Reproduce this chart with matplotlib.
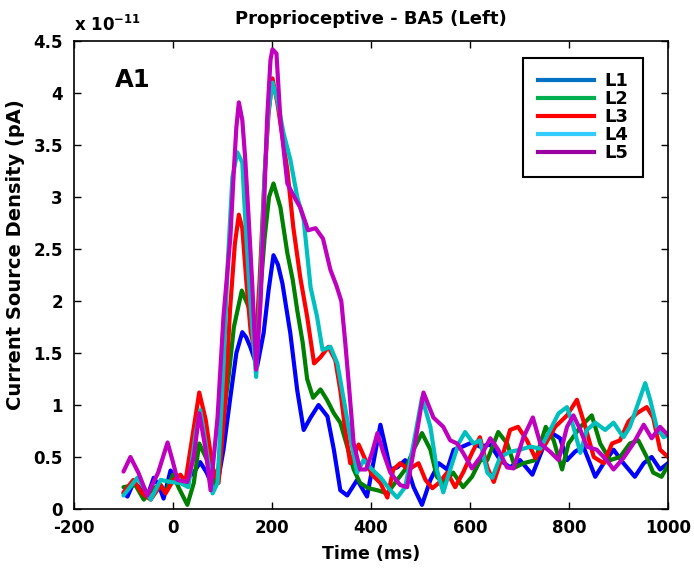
import matplotlib
matplotlib.use('Agg')
import matplotlib.pyplot as plt
from matplotlib.lines import Line2D

# values, current density in units of 1e-11
t_L1 = [-100, -92, -80, -65, -52, -39, -28, -19, -5, 5, 18, 30, 42, 55, 68, 80, 92, 102, 116, 128,
        140, 148, 156, 170, 183, 193, 203, 212, 221, 237, 251, 264, 278, 294, 312, 325, 338, 352, 372, 392,
        405, 419, 429, 439, 453, 469, 486, 503, 520, 537, 554, 567, 585, 604, 620, 641, 661, 681, 701, 726,
        746, 762, 782, 796, 812, 829, 853, 870, 890, 910, 933, 951, 967, 984, 1000]
v_L1 = [0.15, 0.12, 0.25, 0.2, 0.12, 0.3, 0.22, 0.1, 0.37, 0.28, 0.25, 0.3, 0.35, 0.45, 0.35, 0.22, 0.3, 0.57, 1.08, 1.5,
        1.7, 1.65, 1.56, 1.37, 1.69, 2.1, 2.44, 2.35, 2.17, 1.69, 1.14, 0.76, 0.88, 1.0, 0.89, 0.57, 0.18, 0.13, 0.28, 0.12,
        0.45, 0.81, 0.6, 0.38, 0.4, 0.47, 0.21, 0.04, 0.28, 0.44, 0.38, 0.57, 0.6, 0.64, 0.6, 0.62, 0.47, 0.4, 0.47, 0.33,
        0.57, 0.74, 0.68, 0.47, 0.55, 0.6, 0.31, 0.44, 0.57, 0.44, 0.31, 0.44, 0.5, 0.38, 0.44]

t_L2 = [-100, -76, -59, -40, -25, -15, 0, 12, 29, 42, 53, 69, 82, 92, 102, 113, 123, 139, 153, 166,
        175, 185, 194, 203, 217, 231, 242, 251, 262, 271, 283, 298, 311, 325, 338, 352, 365, 378, 395, 413,
        433, 453, 469, 486, 503, 520, 533, 546, 566, 586, 604, 621, 635, 657, 675, 691, 708, 732, 753, 769,
        786, 799, 823, 846, 863, 883, 903, 923, 940, 957, 970, 987, 1000]
v_L2 = [0.21, 0.23, 0.09, 0.2, 0.23, 0.16, 0.33, 0.2, 0.04, 0.25, 0.63, 0.47, 0.21, 0.4, 0.88, 1.3, 1.75, 2.1, 1.94, 1.65,
        2.0, 2.6, 3.0, 3.13, 2.9, 2.46, 2.2, 1.91, 1.6, 1.25, 1.07, 1.15, 1.05, 0.92, 0.83, 0.6, 0.38, 0.25, 0.2, 0.18,
        0.15, 0.28, 0.38, 0.57, 0.73, 0.57, 0.31, 0.25, 0.35, 0.21, 0.31, 0.47, 0.47, 0.74, 0.63, 0.4, 0.44, 0.47, 0.79, 0.66,
        0.38, 0.63, 0.79, 0.9, 0.63, 0.47, 0.5, 0.63, 0.66, 0.5, 0.35, 0.31, 0.42]

t_L3 = [-100, -80, -62, -45, -25, -15, 1, 15, 25, 39, 53, 66, 80, 92, 105, 115, 125, 133, 140, 148,
        157, 166, 175, 185, 193, 201, 211, 221, 231, 243, 257, 271, 285, 298, 314, 328, 338, 348, 358, 375,
        389, 402, 419, 433, 445, 459, 476, 496, 510, 524, 537, 554, 570, 586, 604, 620, 635, 648, 665, 681,
        697, 715, 732, 753, 772, 796, 816, 833, 850, 870, 887, 903, 920, 937, 957, 970, 984, 1000]
v_L3 = [0.16, 0.28, 0.15, 0.09, 0.23, 0.15, 0.28, 0.33, 0.26, 0.69, 1.12, 0.86, 0.4, 0.25, 1.0, 1.9, 2.55, 2.83, 2.7, 2.2,
        1.7, 1.5, 2.2, 3.2, 3.8, 4.14, 3.9, 3.58, 3.26, 2.71, 2.23, 1.85, 1.4, 1.46, 1.56, 1.43, 1.14, 0.76, 0.44, 0.62,
        0.47, 0.33, 0.25, 0.11, 0.38, 0.44, 0.38, 0.44, 0.28, 0.2, 0.25, 0.35, 0.21, 0.35, 0.54, 0.69, 0.4, 0.26, 0.5, 0.76,
        0.79, 0.66, 0.49, 0.63, 0.79, 0.9, 1.05, 0.79, 0.5, 0.44, 0.63, 0.66, 0.84, 0.92, 0.98, 0.88, 0.57, 0.5]

t_L4 = [-100, -72, -58, -45, -25, -5, 15, 31, 46, 55, 66, 80, 90, 102, 111, 120, 130, 140, 146, 156,
        168, 177, 185, 192, 201, 211, 223, 237, 251, 264, 278, 291, 302, 318, 332, 345, 358, 372, 385, 402,
        420, 439, 453, 469, 486, 503, 520, 533, 546, 560, 577, 590, 607, 620, 635, 645, 661, 681, 701, 722,
        742, 762, 779, 796, 809, 823, 836, 853, 873, 890, 910, 923, 937, 954, 964, 977, 991, 1000]
v_L4 = [0.13, 0.3, 0.2, 0.09, 0.28, 0.26, 0.25, 0.21, 0.73, 0.95, 0.63, 0.15, 0.25, 1.37, 2.4, 3.19, 3.43, 3.33, 2.78, 2.0,
        1.27, 2.2, 3.2, 3.8, 4.1, 3.93, 3.62, 3.36, 3.0, 2.78, 2.13, 1.85, 1.53, 1.56, 1.4, 1.05, 0.69, 0.35, 0.47, 0.38,
        0.3, 0.18, 0.11, 0.21, 0.63, 1.07, 0.79, 0.38, 0.16, 0.38, 0.63, 0.74, 0.63, 0.66, 0.35, 0.3, 0.5, 0.55, 0.57, 0.6,
        0.58, 0.76, 0.92, 0.98, 0.79, 0.54, 0.76, 0.83, 0.76, 0.83, 0.69, 0.79, 0.98, 1.21, 1.05, 0.79, 0.69, 0.71]

t_L5 = [-100, -86, -70, -52, -30, -11, 0, 9, 29, 42, 53, 65, 76, 90, 102, 116, 123, 128, 133, 140,
        146, 153, 160, 168, 177, 183, 190, 197, 201, 209, 217, 231, 245, 257, 273, 288, 303, 318, 330, 340,
        348, 355, 365, 378, 390, 402, 413, 425, 439, 459, 473, 489, 506, 526, 546, 560, 574, 586, 604, 621,
        641, 657, 675, 688, 708, 727, 742, 762, 779, 796, 809, 823, 836, 856, 876, 890, 910, 930, 951, 967,
        984, 1000]
v_L5 = [0.36, 0.5, 0.35, 0.13, 0.35, 0.64, 0.45, 0.28, 0.26, 0.5, 0.92, 0.6, 0.18, 0.88, 1.85, 2.62, 3.26, 3.67, 3.91, 3.74,
        3.36, 2.78, 2.17, 1.34, 2.0, 2.78, 3.74, 4.32, 4.42, 4.38, 3.74, 3.13, 3.0, 2.9, 2.68, 2.7, 2.6, 2.3, 2.15, 2.0,
        1.6, 1.21, 0.63, 0.38, 0.38, 0.54, 0.73, 0.54, 0.35, 0.23, 0.21, 0.63, 1.12, 0.88, 0.79, 0.66, 0.63, 0.54, 0.39, 0.5,
        0.68, 0.57, 0.4, 0.39, 0.69, 0.88, 0.63, 0.55, 0.47, 0.79, 0.9, 0.76, 0.6, 0.57, 0.47, 0.38, 0.49, 0.63, 0.81, 0.68,
        0.79, 0.71]

labels = ['L1', 'L2', 'L3', 'L4', 'L5']
line_colors = ['#0000FF', '#008000', '#FF0000', '#00BFBF', '#BF00BF']
legend_colors = ['#0070C0', '#00B050', '#FF0000', '#33CCFF', '#9900A0']
x_ticks = [-200, 0, 200, 400, 600, 800, 1000]
y_ticks = [0, 0.5, 1, 1.5, 2, 2.5, 3, 3.5, 4, 4.5]
y_ticklabels = ['0', '0.5', '1', '1.5', '2', '2.5', '3', '3.5', '4', '4.5']

plt.rcParams['font.family'] = 'DejaVu Sans'
plt.rcParams['font.weight'] = 'bold'
plt.rcParams['mathtext.default'] = 'bf'
plt.rcParams['axes.unicode_minus'] = False

fig = plt.figure(figsize=(6.94, 5.71), dpi=100)
ax = fig.add_axes([74 / 694, 62 / 571, 594 / 694, 468 / 571])

series = [(t_L1, v_L1), (t_L2, v_L2), (t_L3, v_L3), (t_L4, v_L4), (t_L5, v_L5)]
for (t, v), c in zip(series, line_colors):
    ax.plot(t, v, color=c, lw=3, solid_joinstyle='round', solid_capstyle='round')

ax.set_xlim(-200, 1000)
ax.set_ylim(0, 4.5)
ax.set_xticks(x_ticks)
ax.set_yticks(y_ticks)
ax.set_yticklabels(y_ticklabels)
ax.tick_params(direction='in', length=5, width=1, top=True, right=True, labelsize=12)
ax.tick_params(axis='y', pad=8)
ax.tick_params(axis='x', pad=7)
for s in ax.spines.values():
    s.set_linewidth(1.2)

ax.set_title('Proprioceptive - BA5 (Left)', fontsize=13, fontweight='bold', pad=12)
ax.set_xlabel('Time (ms)', fontsize=12.5, fontweight='bold', labelpad=6)
ax.set_ylabel('Current Source Density (pA)', fontsize=14, fontweight='bold')
ax.yaxis.set_label_coords(-0.083, 0.543)
ax.text(0, 1.012, 'x 10$^{-11}$', transform=ax.transAxes, ha='left', va='bottom',
        fontsize=12, fontweight='bold')
ax.text(0.069, 0.917, 'A1', transform=ax.transAxes, ha='left', va='center',
        fontsize=17.5, fontweight='bold')

handles = [Line2D([0], [0], color=c, lw=3) for c in legend_colors]
leg = ax.legend(handles, labels, loc='upper right', bbox_to_anchor=(0.958, 0.964),
                borderaxespad=0, fancybox=False, edgecolor='black', framealpha=1,
                prop={'size': 13, 'weight': 'bold'}, handlelength=3.1, handletextpad=0.6,
                labelspacing=0.0, borderpad=0.8)
leg.get_frame().set_linewidth(1.5)

fig.savefig('out.png', dpi=100)
